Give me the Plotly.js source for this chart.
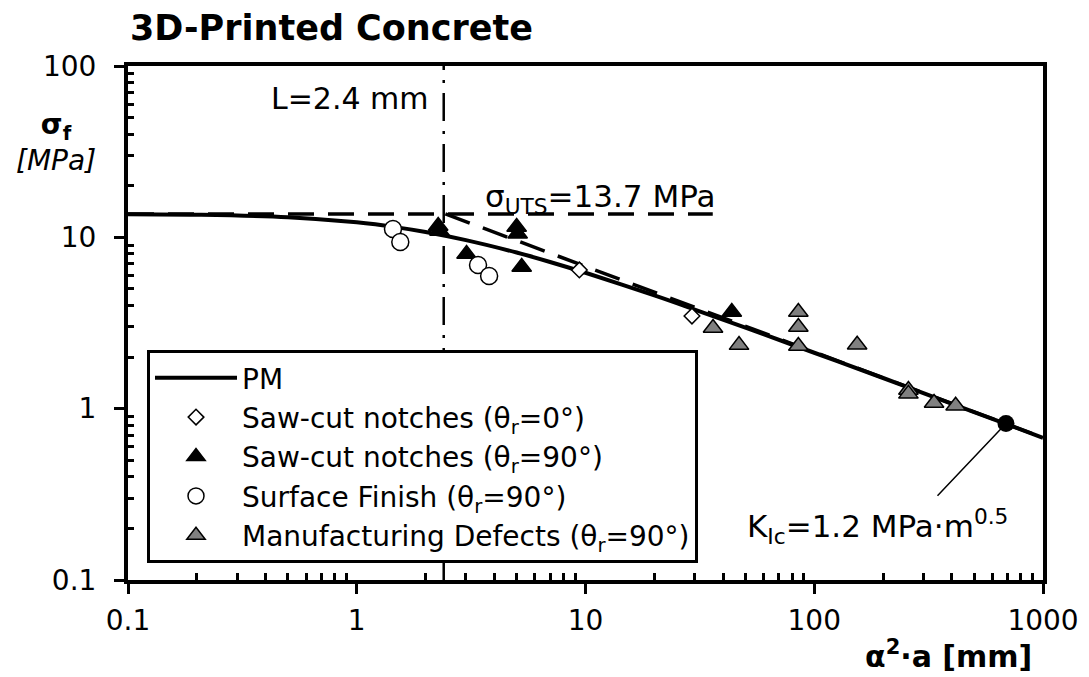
<!DOCTYPE html>
<html>
<head>
<meta charset="utf-8">
<script src="https://cdn.plot.ly/plotly-3.0.1.min.js"></script>
<style>html,body{margin:0;padding:0;background:#fff;}#chart{width:1089px;height:677px;}</style>
</head>
<body>
<div id="chart"></div>
<script>
// ---- Data ----
const pmX = [0.1, 0.2, 0.5, 1, 1.5, 2, 3, 5, 7, 10, 20, 30, 50, 100, 200, 300, 500, 1000];
const pmY = [13.66, 13.56, 13.11, 12.23, 11.43, 10.74, 9.63, 8.15, 7.18, 6.21, 4.58, 3.79, 2.97, 2.12, 1.51, 1.232, 0.955, 0.676];

const utsX = [0.1, 36];
const utsY = [13.7, 13.7];

const lefmX = [2.44, 1000];
const lefmY = [13.7, 0.677];

const lX = [2.4, 2.4];
const lY = [0.1, 100];

const saw0X = [9.4, 29.2];
const saw0Y = [6.45, 3.47];

const saw90X = [2.27, 2.3, 3.02, 5.0, 5.05, 5.26, 43.6];
const saw90Y = [11.65, 10.9, 7.99, 11.5, 10.5, 6.71, 3.67];

const surfX = [1.44, 1.55, 3.39, 3.79];
const surfY = [11.19, 9.39, 6.90, 5.95];

const manX = [36.1, 46.9, 85.2, 85.2, 85.2, 154, 258, 258, 334, 415];
const manY = [2.96, 2.35, 3.67, 3.00, 2.32, 2.36, 1.285, 1.22, 1.08, 1.04];

const kicX = [689];
const kicY = [0.82];

const xTickVals = [0.1, 1, 10, 100, 1000];
const xTickText = ['0.1', '1', '10', '100', '1000'];
const yTickVals = [0.1, 1, 10, 100];
const yTickText = ['0.1', '1', '10', '100'];

const legendNames = [
  'PM',
  'Saw-cut notches (θ<sub>r</sub>=0°)',
  'Saw-cut notches (θ<sub>r</sub>=90°)',
  'Surface Finish (θ<sub>r</sub>=90°)',
  'Manufacturing Defects (θ<sub>r</sub>=90°)'
];

// minor tick positions (2..9 in each decade)
function minorTicks(lo, hi) {
  const out = [];
  for (let e = lo; e < hi; e++) {
    for (let d = 2; d <= 9; d++) out.push(d * Math.pow(10, e));
  }
  return out;
}

const FONT = 'DejaVu Sans';

const traces = [
  {x: pmX, y: pmY, mode: 'lines', name: legendNames[0], line: {color: 'black', width: 4, shape: 'spline'}, showlegend: true},
  {x: lX, y: lY, mode: 'lines', showlegend: false, line: {color: 'black', width: 2.5, dash: '28px,10px,3px,10px'}},
  {x: utsX, y: utsY, mode: 'lines', showlegend: false, line: {color: 'black', width: 3.5, dash: '26px,14px'}},
  {x: lefmX, y: lefmY, mode: 'lines', showlegend: false, line: {color: 'black', width: 3.5, dash: '26px,14px'}},
  {x: saw0X, y: saw0Y, mode: 'markers', name: legendNames[1], marker: {symbol: 'diamond', size: 12, color: 'white', line: {color: 'black', width: 1.5}}},
  {x: saw90X, y: saw90Y, mode: 'markers', name: legendNames[2], marker: {symbol: 'triangle-up', size: 17, color: 'black', line: {color: 'black', width: 1.5}}},
  {x: surfX, y: surfY, mode: 'markers', name: legendNames[3], marker: {symbol: 'circle', size: 17, color: 'white', line: {color: 'black', width: 1.5}}},
  {x: manX, y: manY, mode: 'markers', name: legendNames[4], marker: {symbol: 'triangle-up', size: 17, color: '#808080', line: {color: 'black', width: 1.5}}},
  {x: kicX, y: kicY, mode: 'markers', showlegend: false, marker: {symbol: 'circle', size: 17, color: 'black'}}
];

const axisCommon = {
  type: 'log',
  showgrid: false,
  zeroline: false,
  showline: true,
  linecolor: 'black',
  linewidth: 4,
  mirror: true,
  ticks: 'outside',
  ticklen: 10,
  tickwidth: 3,
  tickcolor: 'black',
  tickfont: {family: FONT, size: 28, color: 'black'}
};

const layout = {
  width: 1089,
  height: 677,
  paper_bgcolor: 'white',
  plot_bgcolor: 'white',
  font: {family: FONT, size: 28, color: 'black'},
  margin: {l: 128, r: 46, t: 66, b: 97},
  title: {
    text: '<b>3D-Printed Concrete</b>',
    font: {family: FONT, size: 35, color: 'black'},
    xref: 'container', yref: 'container',
    x: 130 / 1089, xanchor: 'left',
    y: 1 - 28 / 677, yanchor: 'middle'
  },
  xaxis: Object.assign({}, axisCommon, {
    range: [-1, 3],
    tickmode: 'array', tickvals: xTickVals, ticktext: xTickText,
    ticklabelstandoff: 2,
    minor: {tickmode: 'array', tickvals: minorTicks(-1, 3), ticks: 'inside', ticklen: 7, tickwidth: 3, tickcolor: 'black'}
  }),
  yaxis: Object.assign({}, axisCommon, {
    range: [-1, 2],
    tickmode: 'array', tickvals: yTickVals, ticktext: yTickText,
    ticklabelstandoff: 12,
    minor: {tickmode: 'array', tickvals: minorTicks(-1, 2), ticks: 'inside', ticklen: 6, tickwidth: 3, tickcolor: 'black'}
  }),
  showlegend: true,
  legend: {
    x: (147 - 128) / 915, y: (580 - 350) / 514,
    xanchor: 'left', yanchor: 'top',
    bgcolor: 'white', bordercolor: 'black', borderwidth: 3,
    font: {family: FONT, size: 28, color: 'black'},
    itemwidth: 82,
    tracegroupgap: 0
  },
  annotations: [
    {xref: 'paper', yref: 'paper', x: (56 - 128) / 915, y: (580 - 142) / 514, text: '<b>σ<sub>f</sub></b><br><i>[MPa]</i>', showarrow: false, xanchor: 'center', yanchor: 'middle', align: 'center', font: {family: FONT, size: 28}},
    {xref: 'paper', yref: 'paper', x: (948 - 128) / 915, y: (580 - 654) / 514, text: '<b>α<sup>2</sup>·a [mm]</b>', showarrow: false, xanchor: 'center', yanchor: 'middle', font: {family: FONT, size: 30}},
    {xref: 'paper', yref: 'paper', x: (431 - 128) / 915, y: (580 - 98) / 514, text: 'L=2.4 mm', showarrow: false, xanchor: 'right', yanchor: 'middle', font: {family: FONT, size: 30}},
    {xref: 'paper', yref: 'paper', x: (483 - 128) / 915, y: (580 - 198) / 514, text: 'σ<sub>UTS</sub>=13.7 MPa', showarrow: false, xanchor: 'left', yanchor: 'middle', font: {family: FONT, size: 31}},
    {xref: 'paper', yref: 'paper', x: (745 - 128) / 915, y: (580 - 526) / 514, text: 'K<sub>Ic</sub>=1.2 MPa·m<sup>0.5</sup>', showarrow: false, xanchor: 'left', yanchor: 'middle', font: {family: FONT, size: 31}},
    {x: Math.log10(kicX[0]), y: Math.log10(kicY[0]), xref: 'x', yref: 'y', text: ' ', font: {size: 1}, showarrow: true, arrowhead: 0, arrowwidth: 1.5, arrowcolor: 'black', ax: -70, ay: 74, standoff: 0}
  ]
};

Plotly.newPlot('chart', traces, layout, {staticPlot: true, displayModeBar: false});
</script>
</body>
</html>
